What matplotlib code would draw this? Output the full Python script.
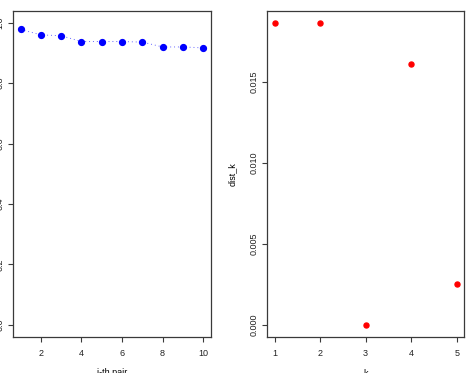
"""Two-panel R-style scatter: similarity per pair (left) and dist_k vs k (right)."""
import matplotlib
matplotlib.use("Agg")
import matplotlib.pyplot as plt

# left panel: value for each i-th pair
pair_idx = [1, 2, 3, 4, 5, 6, 7, 8, 9, 10]
pair_val = [0.978, 0.960, 0.957, 0.938, 0.938, 0.938, 0.936, 0.920, 0.920, 0.917]
left_yticks = [0.0, 0.2, 0.4, 0.6, 0.8, 1.0]
left_xticks = [2, 4, 6, 8, 10]

# right panel: dist_k for each k
k_vals = [1, 2, 3, 4, 5]
dist_k = [0.01866, 0.01866, 0.0, 0.01613, 0.00255]
right_yticks = [0.000, 0.005, 0.010, 0.015]

plt.rcParams["font.family"] = ["Liberation Sans", "DejaVu Sans"]
FRAME = "#3a3a3a"
FS = 6.5

W, H = 468, 373
fig = plt.figure(figsize=(W / 100, H / 100), dpi=100)


def px_axes(x0, x1, y0, y1):
    return fig.add_axes([x0 / W, 1 - y1 / H, (x1 - x0) / W, (y1 - y0) / H])


def style(ax):
    for s in ax.spines.values():
        s.set_color(FRAME)
        s.set_linewidth(0.9)
    ax.tick_params(direction="out", length=3.6, width=0.8, color=FRAME,
                   labelsize=FS, labelcolor="#222222")
    ax.tick_params(axis="x", pad=5)
    ax.tick_params(axis="y", pad=2.5)
    for lab in ax.get_yticklabels():
        lab.set_rotation(90)
        lab.set_va("center")


def pad(lo, hi):
    d = (hi - lo) * 0.04
    return lo - d, hi + d


# left panel (its y labels run off the left edge, as in the source)
ax1 = px_axes(13.3, 210.5, 10.7, 337)
ax1.plot(pair_idx, pair_val, color="blue", lw=0.7, ls=(0, (1, 3)), alpha=0.6)
ax1.plot(pair_idx, pair_val, "o", color="blue", ms=4.2, ls="none")
ax1.set_xlim(*pad(1, 10))
ax1.set_ylim(*pad(0, 1))
ax1.set_xticks(left_xticks)
ax1.set_yticks(left_yticks)
ax1.set_yticklabels([f"{v:.1f}" for v in left_yticks])
ax1.set_xlabel("i-th pair", fontsize=FS, labelpad=7.5)
style(ax1)

# right panel
ax2 = px_axes(267.3, 464, 10.7, 337.3)
ax2.plot(k_vals, dist_k, "o", color="red", ms=3.6, ls="none")
ax2.set_xlim(*pad(1, 5))
ax2.set_ylim(*pad(min(dist_k), max(dist_k)))
ax2.set_xticks(k_vals)
ax2.set_yticks(right_yticks)
ax2.set_yticklabels([f"{v:.3f}" for v in right_yticks])
ax2.set_xlabel("k", fontsize=FS, labelpad=7.5)
ax2.set_ylabel("dist_k", fontsize=FS, labelpad=9)
style(ax2)

fig.savefig("out.png", dpi=100)
